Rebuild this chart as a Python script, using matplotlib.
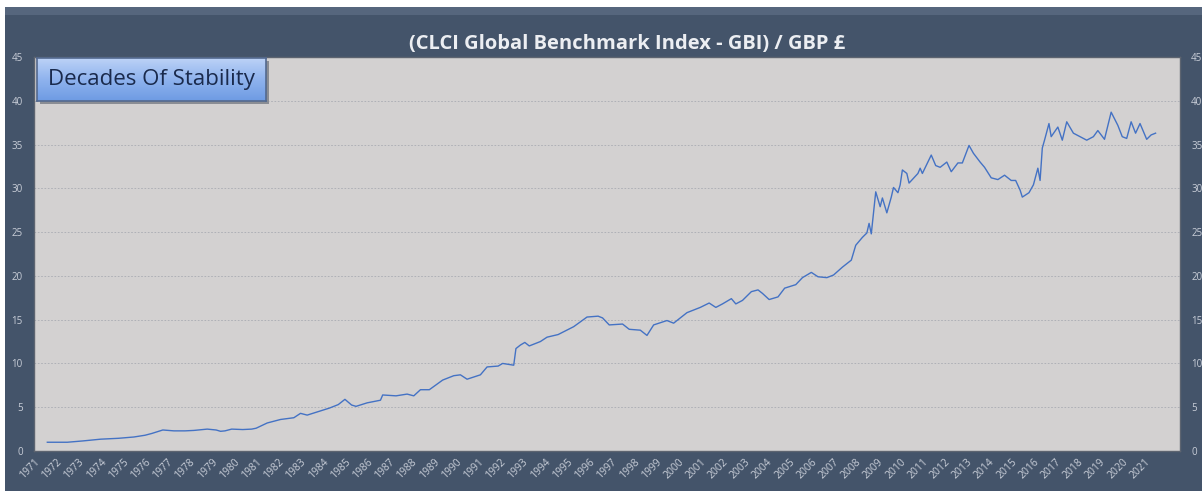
import numpy as np
import matplotlib.pyplot as plt
from matplotlib.patches import Rectangle
from matplotlib.colors import LinearSegmentedColormap

# GBI index values (decimal year, index level)
years = [1971.6, 1972.5, 1973.2, 1974.0, 1974.8, 1975.5, 1976.0, 1976.3, 1976.8, 1977.3,
         1977.8, 1978.2, 1978.8, 1979.2, 1979.4, 1979.6, 1979.9, 1980.4, 1980.8, 1981.0,
         1981.5, 1981.8, 1982.1, 1982.7, 1983.0, 1983.3, 1983.8, 1984.3, 1984.7, 1985.0,
         1985.3, 1985.5, 1986.0, 1986.6, 1986.7, 1987.3, 1987.8, 1988.1, 1988.4, 1988.8,
         1989.4, 1989.9, 1990.2, 1990.5, 1991.1, 1991.4, 1991.9, 1992.1, 1992.6, 1992.7,
         1992.9, 1993.1, 1993.3, 1993.8, 1994.1, 1994.6, 1995.3, 1995.9, 1996.4, 1996.6,
         1996.9, 1997.5, 1997.8, 1998.3, 1998.6, 1998.9, 1999.5, 1999.8, 2000.4, 2001.0,
         2001.4, 2001.7, 2002.0, 2002.4, 2002.6, 2002.9, 2003.3, 2003.6, 2003.8, 2004.1,
         2004.5, 2004.8, 2005.3, 2005.6, 2006.0, 2006.3, 2006.7, 2007.0, 2007.4, 2007.8,
         2008.0, 2008.3, 2008.5, 2008.6, 2008.7, 2008.8, 2008.9, 2009.1, 2009.2, 2009.4,
         2009.6, 2009.7, 2009.9, 2010.0, 2010.1, 2010.3, 2010.4, 2010.8, 2010.9, 2011.0,
         2011.4, 2011.6, 2011.8, 2012.1, 2012.3, 2012.6, 2012.8, 2013.1, 2013.3, 2013.6,
         2013.8, 2014.1, 2014.4, 2014.7, 2015.0, 2015.2, 2015.4, 2015.5, 2015.8, 2016.0,
         2016.2, 2016.3, 2016.4, 2016.5, 2016.7, 2016.8, 2017.1, 2017.3, 2017.5, 2017.8,
         2018.1, 2018.4, 2018.7, 2018.9, 2019.2, 2019.5, 2019.8, 2020.0, 2020.2, 2020.4,
         2020.6, 2020.8, 2021.1, 2021.3, 2021.5]
gbi = [1.0, 1.0, 1.15, 1.35, 1.45, 1.6, 1.8, 2.0, 2.4, 2.3,
       2.3, 2.35, 2.5, 2.4, 2.25, 2.3, 2.5, 2.45, 2.5, 2.6,
       3.2, 3.4, 3.6, 3.8, 4.3, 4.1, 4.5, 4.9, 5.3, 5.9,
       5.25, 5.1, 5.5, 5.8, 6.4, 6.3, 6.5, 6.3, 7.0, 7.0,
       8.1, 8.6, 8.7, 8.2, 8.7, 9.6, 9.7, 10.0, 9.8, 11.7,
       12.1, 12.4, 12.0, 12.5, 13.0, 13.3, 14.2, 15.3, 15.4, 15.2,
       14.4, 14.5, 13.9, 13.8, 13.2, 14.4, 14.9, 14.6, 15.8, 16.4,
       16.9, 16.4, 16.8, 17.4, 16.8, 17.2, 18.2, 18.4, 18.0, 17.3,
       17.6, 18.6, 19.0, 19.8, 20.4, 19.9, 19.8, 20.1, 21.0, 21.8,
       23.5, 24.4, 24.9, 26.0, 24.8, 27.2, 29.6, 27.9, 28.9, 27.2,
       29.0, 30.1, 29.5, 30.4, 32.1, 31.7, 30.6, 31.7, 32.3, 31.7,
       33.8, 32.6, 32.4, 33.0, 31.9, 32.9, 32.9, 34.9, 34.0, 33.0,
       32.4, 31.2, 31.0, 31.5, 30.9, 30.9, 29.8, 29.0, 29.5, 30.4,
       32.3, 30.9, 34.6, 35.5, 37.4, 35.9, 37.0, 35.5, 37.6, 36.3,
       35.9, 35.5, 35.9, 36.6, 35.6, 38.7, 37.2, 35.9, 35.7, 37.6,
       36.3, 37.4, 35.6, 36.1, 36.3]
year_ticks = list(range(1971, 2022))
y_ticks = [0, 5, 10, 15, 20, 25, 30, 35, 40, 45]

panel = '#44546a'
label_col = '#c9ced8'
plt.rcParams['font.family'] = ['Open Sans', 'DejaVu Sans']

fig = plt.figure(figsize=(12.02, 4.91), dpi=100, facecolor='white')

# dark outer panel with lighter top band, kept behind the axes
fig.patches.append(Rectangle((5 / 1202, 0), 1, 484 / 491, transform=fig.transFigure,
                             facecolor=panel, edgecolor='none', zorder=-10))
fig.patches.append(Rectangle((5 / 1202, 476 / 491), 1, 8 / 491, transform=fig.transFigure,
                             facecolor='#56667d', edgecolor='none', zorder=-9))

ax = fig.add_axes([34 / 1202, 40 / 491, 1146 / 1202, 394 / 491])
ax.set_facecolor('#d3d1d1')
ax.plot(years, gbi, color='#4472c4', linewidth=1.0)

ax.set_xlim(1971, 2022.6)
ax.set_ylim(0, 45)
ax.set_xticks(year_ticks)
ax.set_xticklabels([str(y) for y in year_ticks], rotation=45, ha='right', va='top',
                   rotation_mode='anchor', fontsize=7.5, color=label_col)
ax.set_yticks(y_ticks)
ax.tick_params(axis='y', length=0, labelsize=7, labelcolor=label_col, pad=8,
               labelright=True)
ax.tick_params(axis='x', length=0, pad=4)
ax.grid(axis='y', linestyle=(0, (2, 2)), color='#a9abb3', linewidth=0.6)
for s in ax.spines.values():
    s.set_color('#5d6470')
    s.set_linewidth(1)

fig.text(627 / 1202, 1 - 44 / 491, '(CLCI Global Benchmark Index - GBI) / GBP £',
         ha='center', va='center', fontsize=14.5, fontweight='bold', color='#eceef2')

# gradient label box with a soft shadow (shadow in its own axes behind the box)
sh = fig.add_axes([40 / 1202, 1 - 104 / 491, 229 / 1202, 43 / 491])
sh.set_facecolor('#8a8d94')
sh.set_xticks([])
sh.set_yticks([])
for s in sh.spines.values():
    s.set_visible(False)
bx = fig.add_axes([37 / 1202, 1 - 101 / 491, 229 / 1202, 43 / 491])
grad = np.linspace(0, 1, 100).reshape(-1, 1)
cmap = LinearSegmentedColormap.from_list('box', ['#bcd2f6', '#8fb3ee', '#6e9be3'])
bx.imshow(grad, aspect='auto', cmap=cmap, extent=[0, 1, 0, 1])
bx.set_xticks([])
bx.set_yticks([])
for s in bx.spines.values():
    s.set_color('#53698f')
    s.set_linewidth(1.2)
bx.text(0.5, 0.5, 'Decades Of Stability', ha='center', va='center',
        fontsize=16, color='#1a2a4c', transform=bx.transAxes)

fig.savefig('out.png', dpi=100, facecolor=fig.get_facecolor())
